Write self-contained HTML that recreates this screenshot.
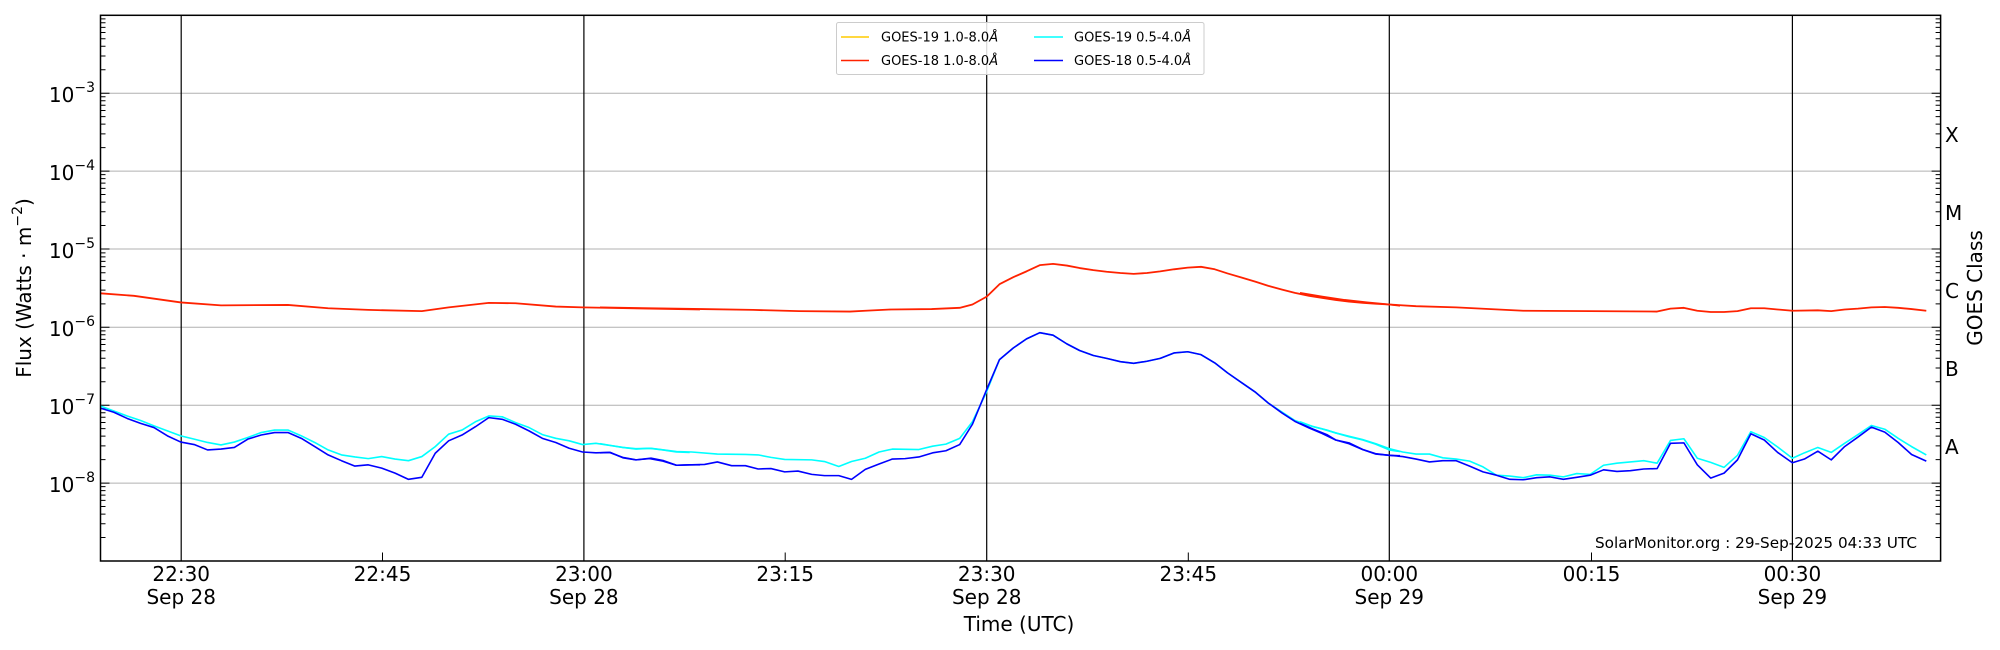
<!DOCTYPE html>
<html><head><meta charset="utf-8"><style>
html,body{margin:0;padding:0;background:#fff;width:2000px;height:650px;overflow:hidden}
svg{display:block;font-family:"DejaVu Sans","Liberation Sans",sans-serif}
.s{fill:none;vector-effect:non-scaling-stroke;stroke-linejoin:round}
</style></head><body>
<svg width="2000" height="650" viewBox="0 0 2000 650" xmlns="http://www.w3.org/2000/svg">
<defs>
<g id="dec"><path d="M0,0h9M0,-23.47h5M0,-37.19h5M0,-46.93h5M0,-54.49h5M0,-60.66h5M0,-65.88h5M0,-70.40h5M0,-74.38h5" stroke="#000" stroke-width="1"/></g>
<g id="decr"><path d="M0,0h-9M0,-23.47h-5M0,-37.19h-5M0,-46.93h-5M0,-54.49h-5M0,-60.66h-5M0,-65.88h-5M0,-70.40h-5M0,-74.38h-5" stroke="#000" stroke-width="1"/></g>
</defs>
<g stroke="#b0b0b0" stroke-width="1">
<line x1="100.5" x2="1940.6" y1="93.2" y2="93.2"/><line x1="100.5" x2="1940.6" y1="171.1" y2="171.1"/>
<line x1="100.5" x2="1940.6" y1="249" y2="249"/><line x1="100.5" x2="1940.6" y1="327.3" y2="327.3"/>
<line x1="100.5" x2="1940.6" y1="405.2" y2="405.2"/><line x1="100.5" x2="1940.6" y1="483.1" y2="483.1"/>
</g>
<g stroke="#000" stroke-width="1.2">
<line x1="181.2" x2="181.2" y1="15.3" y2="561"/><line x1="583.9" x2="583.9" y1="15.3" y2="561"/>
<line x1="986.7" x2="986.7" y1="15.3" y2="561"/><line x1="1389.3" x2="1389.3" y1="15.3" y2="561"/>
<line x1="1792.4" x2="1792.4" y1="15.3" y2="561"/>
</g>
<g stroke="#000" stroke-width="1">
<line x1="382.5" x2="382.5" y1="561" y2="552.5"/><line x1="785.2" x2="785.2" y1="561" y2="552.5"/>
<line x1="1188.3" x2="1188.3" y1="561" y2="552.5"/><line x1="1591.5" x2="1591.5" y1="561" y2="552.5"/>
</g>
<g transform="translate(100.5,0)">
<use href="#dec" y="93.2"/><use href="#dec" y="171.1"/><use href="#dec" y="249"/><use href="#dec" y="327.3"/><use href="#dec" y="405.2"/><use href="#dec" y="483.1"/><use href="#dec" y="561"/>
</g>
<g transform="translate(1940.6,0)">
<use href="#decr" y="93.2"/><use href="#decr" y="171.1"/><use href="#decr" y="249"/><use href="#decr" y="327.3"/><use href="#decr" y="405.2"/><use href="#decr" y="483.1"/><use href="#decr" y="561"/>
</g>
<!-- series -->
<g transform="translate(0,0) scale(0.4464,0.4143)">
<polyline class="s" stroke="#ff2200" stroke-width="1.8" points="225,708 300,714 405,730 495,737 645,736 735,744 825,748 945,751 1005,742 1095,731 1155,732 1245,740 1305,742 1568,747"/>
<polyline class="s" stroke="#00ffff" stroke-width="1.6" points="225,980 255,992 285,1004 315,1015 345,1028 375,1040 405,1052 435,1060 465,1068 495,1074 525,1067 555,1056 585,1044 615,1038 645,1038 675,1052 705,1068 735,1086 765,1098 795,1103 825,1107 855,1102 885,1108 915,1112 945,1102 975,1078 1005,1048 1035,1038 1065,1018 1095,1004 1125,1006 1155,1020 1185,1032 1215,1049 1245,1058 1275,1064 1305,1073 1335,1070 1365,1075 1395,1080 1425,1084 1455,1082 1485,1086 1515,1091 1545,1092"/>
<polyline class="s" stroke="#0000ff" stroke-width="1.6" points="225,985 255,995 285,1010 315,1022 345,1032 375,1052 405,1067 435,1073 465,1086 495,1084 525,1080 555,1060 585,1050 615,1044 645,1044 675,1058 705,1078 735,1098 765,1112 795,1125 825,1122 855,1130 885,1142 915,1157 945,1152 975,1094 1005,1064 1035,1050 1065,1030 1095,1008 1125,1012 1155,1024 1185,1040 1215,1058 1245,1068 1275,1082 1305,1091 1335,1093 1365,1092 1395,1104 1425,1110 1455,1107 1485,1113 1515,1123 1545,1122 1568,1122"/>
</g>
<g transform="translate(600,0) scale(0.5102,0.4143)">
<polyline class="s" stroke="#ff2200" stroke-width="1.8" points="0,742 100,744 200,746 300,748 390,751 490,752 520,750 570,747 650,746 705,743 730,735 758,716 783,686 810,669 836,655 862,640 888,637 915,641 940,647 967,652 993,656 1020,659 1046,661 1072,659 1098,655 1125,650 1152,646 1178,644 1205,650 1230,660 1258,670 1285,680 1310,690 1337,699 1362,707 1390,714 1415,719 1442,724 1468,728 1495,731 1520,733 1547,735 1568,738"/>
<polyline class="s" stroke="#00ffff" stroke-width="1.6" points="0,1071 20,1075 45,1080 70,1083 100,1082 125,1086 150,1090 180,1091 230,1096 285,1097 310,1098 335,1104 362,1109 415,1110 440,1114 468,1126 493,1114 520,1106 547,1091 573,1084 625,1085 652,1077 678,1072 705,1058 730,1018 758,945 783,868 810,840 836,818 862,803 888,809 915,830 940,846 967,858 993,865 1020,873 1046,877 1072,872 1098,865 1125,852 1152,849 1178,856 1205,876 1230,900 1258,924 1285,947 1310,973 1337,995 1362,1015 1390,1027 1415,1035 1442,1045 1468,1054 1495,1062 1520,1072 1547,1086 1568,1090"/>
<polyline class="s" stroke="#0000ff" stroke-width="1.6" points="0,1093 20,1092 45,1105 70,1110 100,1106 125,1112 150,1123 180,1122 205,1121 230,1115 258,1124 285,1124 310,1132 335,1131 362,1139 388,1137 415,1145 440,1148 468,1148 493,1157 520,1133 547,1120 573,1108 598,1107 625,1103 652,1093 678,1088 705,1073 730,1024 758,940 783,868 810,840 836,818 862,803 888,809 915,830 940,846 967,858 993,865 1020,873 1046,877 1072,872 1098,865 1125,852 1152,849 1178,856 1205,876 1230,900 1258,924 1285,947 1310,973 1337,997 1362,1017 1390,1033 1415,1046 1442,1062 1468,1069 1495,1085 1520,1095 1547,1099 1568,1100"/>
</g>
<g transform="translate(1300,0) scale(0.4464,0.4143)">
<polyline class="s" stroke="#ff2200" stroke-width="1.8" points="0,707 50,716 100,724 150,730 200,735 260,739 350,742 500,750 650,751 800,752 830,745 860,743 890,750 920,753 950,753 980,751 1010,744 1040,744 1070,747 1103,750 1160,749 1190,751 1220,747 1250,745 1280,742 1310,741 1340,743 1370,746 1403,750"/>
<polyline class="s" stroke="#00ffff" stroke-width="1.6" points="0,1018 30,1030 60,1038 80,1045 110,1053 140,1061 170,1071 200,1083 230,1091 260,1096 290,1096 320,1105 350,1108 380,1113 410,1127 440,1147 470,1149 500,1153 530,1146 560,1147 590,1151 620,1143 650,1145 680,1123 710,1118 740,1115 770,1112 800,1118 830,1063 860,1059 890,1106 920,1116 950,1128 980,1099 1010,1042 1040,1056 1070,1079 1103,1106 1130,1093 1160,1080 1190,1092 1220,1070 1250,1049 1280,1027 1310,1036 1340,1058 1370,1078 1403,1098"/>
<polyline class="s" stroke="#0000ff" stroke-width="1.6" points="0,1022 30,1036 60,1049 80,1062 110,1071 140,1085 170,1096 200,1099 230,1102 260,1108 290,1115 320,1112 350,1112 380,1125 410,1139 440,1147 470,1157 500,1158 530,1153 560,1151 590,1157 620,1152 650,1147 680,1134 710,1138 740,1136 770,1132 800,1131 830,1070 860,1069 890,1122 920,1154 950,1142 980,1110 1010,1047 1040,1062 1070,1092 1103,1117 1130,1108 1160,1089 1190,1110 1220,1078 1250,1055 1280,1031 1310,1043 1340,1068 1370,1097 1403,1113"/>
</g>
<rect x="100.5" y="15.3" width="1840.1" height="545.7" fill="none" stroke="#000" stroke-width="1.5"/>
<!-- legend -->
<rect x="836.5" y="22.5" width="367.5" height="52" fill="#fff" fill-opacity="0.85" stroke="#ccc" stroke-width="1" rx="2"/>
<g stroke-width="1.5"><line x1="841" x2="869" y1="37" y2="37" stroke="#ffcc00"/><line x1="841" x2="869" y1="60.5" y2="60.5" stroke="#ff2200"/>
<line x1="1034" x2="1063" y1="37" y2="37" stroke="#00ffff"/><line x1="1034" x2="1063" y1="60.5" y2="60.5" stroke="#0000ff"/></g>
<g font-size="13" fill="#000">
<text x="881" y="41.5">GOES-19 1.0-8.0<tspan font-style="italic">Å</tspan></text>
<text x="881" y="65">GOES-18 1.0-8.0<tspan font-style="italic">Å</tspan></text>
<text x="1074" y="41.5">GOES-19 0.5-4.0<tspan font-style="italic">Å</tspan></text>
<text x="1074" y="65">GOES-18 0.5-4.0<tspan font-style="italic">Å</tspan></text>
</g>
<!-- y tick labels -->
<g font-size="20" fill="#000" text-anchor="end">
<text x="95" y="102">10<tspan font-size="14" dy="-10">−3</tspan></text>
<text x="95" y="180">10<tspan font-size="14" dy="-10">−4</tspan></text>
<text x="95" y="258">10<tspan font-size="14" dy="-10">−5</tspan></text>
<text x="95" y="336">10<tspan font-size="14" dy="-10">−6</tspan></text>
<text x="95" y="414">10<tspan font-size="14" dy="-10">−7</tspan></text>
<text x="95" y="492">10<tspan font-size="14" dy="-10">−8</tspan></text>
</g>
<g font-size="20" fill="#000" text-anchor="middle">
<text x="181.2" y="581">22:30</text><text x="181.2" y="604">Sep 28</text>
<text x="382.5" y="581">22:45</text>
<text x="583.9" y="581">23:00</text><text x="583.9" y="604">Sep 28</text>
<text x="785.2" y="581">23:15</text>
<text x="986.7" y="581">23:30</text><text x="986.7" y="604">Sep 28</text>
<text x="1188.3" y="581">23:45</text>
<text x="1389.3" y="581">00:00</text><text x="1389.3" y="604">Sep 29</text>
<text x="1591.5" y="581">00:15</text>
<text x="1792.4" y="581">00:30</text><text x="1792.4" y="604">Sep 29</text>
<text x="1019" y="631">Time (UTC)</text>
<text transform="translate(31,288) rotate(-90)">Flux (Watts · m<tspan font-size="14" dy="-9">−2</tspan><tspan dy="9">)</tspan></text>
<text transform="translate(1982,288) rotate(-90)">GOES Class</text>
</g>
<g font-size="20" fill="#000">
<text x="1945" y="142">X</text><text x="1945" y="220">M</text><text x="1945" y="298">C</text>
<text x="1945" y="376">B</text><text x="1945" y="454">A</text>
</g>
<text x="1595" y="548" font-size="15" fill="#000" textLength="322" lengthAdjust="spacingAndGlyphs">SolarMonitor.org : 29-Sep-2025 04:33 UTC</text>
</svg>
</body></html>
